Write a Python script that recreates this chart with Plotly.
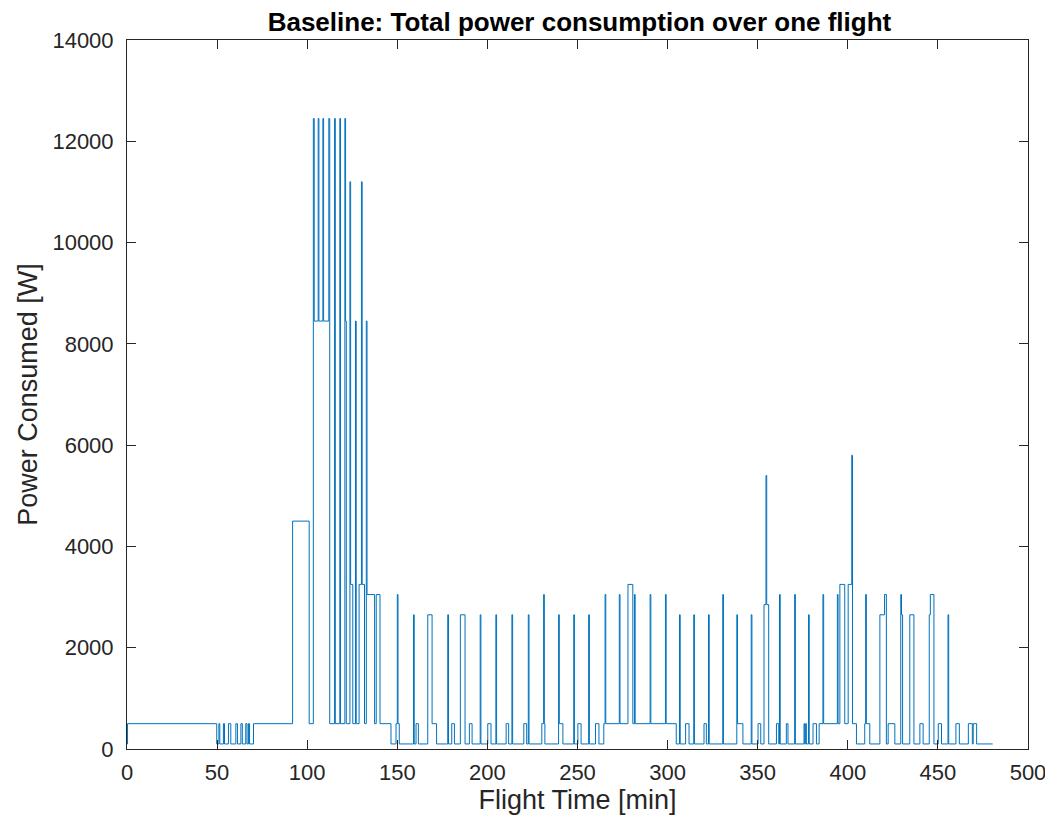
import plotly.graph_objects as go

# Step change points: time [min] at which the power level [W] starts
time_min = [
    0, 0.3, 49.8, 51.0, 51.5, 53.5, 54.1, 56.3, 57.6, 60.4, 61.3, 63.2, 64.0, 65.9, 66.6, 67.4, 68.0, 70.2,
    91.9, 101.1, 103.4, 103.9, 106.1, 106.5, 108.7, 109.1, 112.0, 112.5,
    115.2, 115.6, 118.1, 118.5, 120.9, 121.3, 121.7, 123.7, 124.1, 125.3,
    126.8, 127.2, 128.8, 130.1, 130.5, 131.8, 132.8, 133.2, 137.4, 138.3, 140.4, 146.5,
    149.3, 150.0, 150.4, 151.1, 159.0, 159.4, 160.4, 161.7, 166.9, 169.3, 171.8,
    178.0, 178.4, 180.2, 181.7, 185.0, 187.6, 190.0, 191.5, 196.0, 196.4, 200.2, 202.0,
    204.7, 205.1, 210.4, 211.8, 213.6, 214.0, 220.2, 221.8, 222.7, 223.1,
    230.2, 231.2, 231.6, 231.9, 239.5, 239.9, 241.9, 247.9, 248.3, 250.2, 252.0,
    256.2, 256.6, 260.0, 261.9, 264.6, 265.3, 265.7, 273.2, 273.6, 278.0, 280.7,
    281.6, 282.0, 290.3, 290.7, 298.8, 299.2, 304.8, 306.6, 307.0, 310.0, 311.9,
    314.5, 314.9, 320.2, 321.5, 322.7, 323.1, 330.6, 331.0, 338.4, 338.8, 341.8,
    346.4, 346.8, 350.2, 351.7, 353.5, 354.6, 355.0, 356.1, 360.4, 361.7, 362.1, 362.5,
    365.9, 366.8, 370.5, 370.9, 375.7, 376.1, 376.6, 377.0, 378.2, 378.6, 380.7, 382.6,
    384.1, 386.2, 386.6, 394.2, 394.6, 395.6, 398.3, 400.2, 402.2, 402.6, 404.8,
    409.4, 409.9, 410.3, 412.2, 417.8, 420.4, 421.4, 422.4, 426.1, 429.4, 429.8, 430.4,
    434.4, 436.7, 440.0, 441.8, 445.2, 445.8, 447.8, 450.2, 452.0, 455.6, 456.0,
    460.0, 461.9, 466.9, 469.1, 469.6, 471.5, 480.4,
]
power_w = [
    100, 500, 100, 500, 100, 500, 100, 500, 100, 500, 100, 500, 100, 500, 100, 500, 100, 500,
    4500, 500, 12450, 8450, 12450, 8450, 12450, 8450, 12450, 500,
    12450, 500, 12450, 500, 12450, 8450, 500, 11200, 3250, 500,
    8450, 500, 3250, 11200, 3250, 500, 8450, 3050, 500, 3050, 500, 100,
    500, 3050, 500, 100, 2650, 100, 500, 100, 2650, 500, 100,
    2650, 100, 500, 100, 2650, 100, 500, 100, 2650, 100, 500, 100,
    2650, 100, 500, 100, 2650, 100, 500, 100, 2650, 100,
    500, 3050, 500, 100, 2650, 500, 100, 2650, 100, 500, 100,
    2650, 100, 500, 100, 500, 3050, 500, 3050, 500, 3250, 500,
    3050, 500, 3050, 500, 3050, 500, 100, 2650, 100, 500, 100,
    2650, 100, 500, 100, 2650, 100, 3050, 100, 2650, 500, 100,
    2650, 100, 500, 100, 2850, 5400, 2850, 100, 500, 100, 3050, 100,
    500, 100, 3050, 100, 500, 100, 500, 100, 2650, 100, 500, 100,
    500, 3050, 500, 3050, 500, 3250, 500, 3250, 5800, 500, 100,
    500, 3050, 500, 100, 2650, 3050, 100, 500, 100, 3050, 2650, 100,
    2650, 100, 500, 100, 2650, 3050, 100, 500, 100, 2650, 100,
    500, 100, 500, 100, 500, 100, 100,
]

x_ticks = list(range(0, 501, 50))
y_ticks = list(range(0, 14001, 2000))

axis_color = "#262626"
font_family = "Liberation Sans, Arial, Helvetica, sans-serif"

fig = go.Figure()
fig.add_trace(go.Scatter(
    x=time_min, y=power_w, mode="lines",
    line=dict(color="#0072BD", width=1, shape="hv"),
    showlegend=False,
))

axis_common = dict(
    showline=True, linecolor=axis_color, linewidth=1, mirror="ticks",
    ticks="inside", ticklen=9, tickwidth=1, tickcolor=axis_color,
    showgrid=False, zeroline=False,
    tickfont=dict(family=font_family, size=22, color=axis_color),
)

fig.update_layout(
    width=1053, height=824,
    margin=dict(l=119, r=33, t=32, b=83),
    paper_bgcolor="white", plot_bgcolor="white",
    font=dict(family=font_family, color=axis_color),
    title=dict(
        text="<b>Baseline: Total power consumption over one flight</b>",
        x=0.5427, xanchor="center", y=1 - 14 / 824, yanchor="middle",
        font=dict(family=font_family, size=26, color="black"),
    ),
    xaxis=dict(
        range=[0, 500], tickvals=x_ticks, ticktext=[str(v) for v in x_ticks],
        ticklabelstandoff=4,
        title=dict(text="Flight Time [min]", standoff=2,
                   font=dict(family=font_family, size=27, color=axis_color)),
        **axis_common,
    ),
    yaxis=dict(
        range=[0, 14000], tickvals=y_ticks, ticktext=[str(v) for v in y_ticks],
        ticklabelstandoff=8,
        title=dict(text="Power Consumed [W]", standoff=6,
                   font=dict(family=font_family, size=27, color=axis_color)),
        **axis_common,
    ),
)

fig.write_html("out.html")
